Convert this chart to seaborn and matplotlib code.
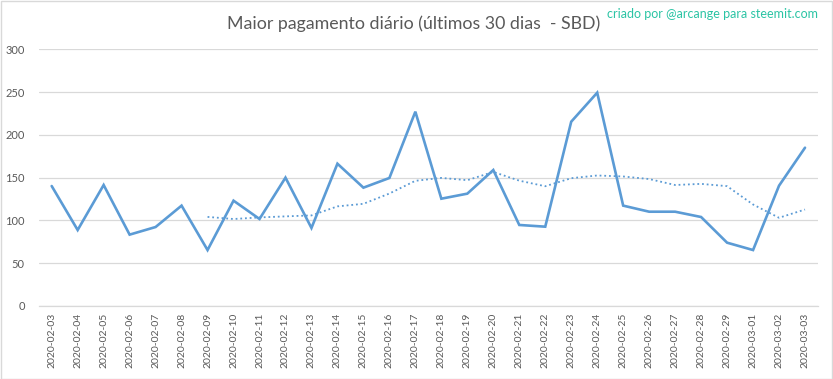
import matplotlib
matplotlib.use("Agg")
import matplotlib.pyplot as plt
import seaborn as sns
import pandas as pd
from matplotlib.patches import Rectangle

dates = ["2020-02-03", "2020-02-04", "2020-02-05", "2020-02-06", "2020-02-07",
         "2020-02-08", "2020-02-09", "2020-02-10", "2020-02-11", "2020-02-12",
         "2020-02-13", "2020-02-14", "2020-02-15", "2020-02-16", "2020-02-17",
         "2020-02-18", "2020-02-19", "2020-02-20", "2020-02-21", "2020-02-22",
         "2020-02-23", "2020-02-24", "2020-02-25", "2020-02-26", "2020-02-27",
         "2020-02-28", "2020-02-29", "2020-03-01", "2020-03-02", "2020-03-03"]
payout = [140.2, 88.8, 141.4, 83.4, 92.3, 117.3, 65.4, 123.1, 101.7, 150.0,
          91.2, 166.3, 138.3, 149.6, 227.1, 125.4, 131.3, 158.9, 94.7, 92.7,
          215.4, 249.3, 117.3, 110.2, 110.2, 104.0, 74.0, 65.4, 140.6, 185.0]
y_ticks = [0, 50, 100, 150, 200, 250, 300]

title = "Maior pagamento diário (últimos 30 dias  - SBD)"
credit = "criado por @arcange para steemit.com"

df = pd.DataFrame({"date": dates, "payout": payout})
df["x"] = range(len(df))
df["ma"] = df["payout"].rolling(7).mean()

sns.set_theme(style="white")
plt.rcParams["font.family"] = ["Lato", "DejaVu Sans"]

W, H = 833, 379
fig = plt.figure(figsize=(W / 100, H / 100), dpi=100)
ax = fig.add_axes([38.7 / W, 1 - 306 / H, (818 - 38.7) / W, (306 - 49.3) / H])

blue = "#5B9BD5"
grey_txt = "#595959"

sns.lineplot(data=df, x="x", y="payout", ax=ax, color=blue, linewidth=1.9,
             solid_capstyle="round", solid_joinstyle="miter")
sns.lineplot(data=df.dropna(), x="x", y="ma", ax=ax, color=blue, linewidth=1.3,
             linestyle=(0, (1, 1.6)))

ax.set_xlim(-0.5, len(dates) - 0.5)
ax.set_ylim(0, 300)
ax.set_yticks(y_ticks)
ax.set_yticklabels([str(t) for t in y_ticks], color=grey_txt, fontsize=8)
ax.set_xticks(df["x"])
ax.set_xticklabels(dates, rotation=90, color=grey_txt, fontsize=7.5)
ax.tick_params(axis="y", length=0, pad=10)
ax.tick_params(axis="x", length=0, pad=5)
ax.grid(axis="y", color="#D9D9D9", linewidth=0.9)
ax.set_axisbelow(True)
for s in ["top", "right", "left"]:
    ax.spines[s].set_visible(False)
ax.spines["bottom"].set_color("#D9D9D9")
ax.spines["bottom"].set_linewidth(0.9)
ax.set_xlabel("")
ax.set_ylabel("")

fig.text(414 / W, 1 - 24 / H, title, ha="center", va="center",
         fontsize=12.8, color=grey_txt)
fig.text(818 / W, 1 - 14 / H, credit, ha="right", va="center",
         fontsize=9, color="#2BC4A4")

fig.patches.append(Rectangle((0.5 / W, 0.5 / H), 1 - 1.5 / W, 1 - 1.5 / H,
                             transform=fig.transFigure, fill=False,
                             edgecolor="#D9D9D9", linewidth=1))

fig.savefig("out.png", dpi=100)
